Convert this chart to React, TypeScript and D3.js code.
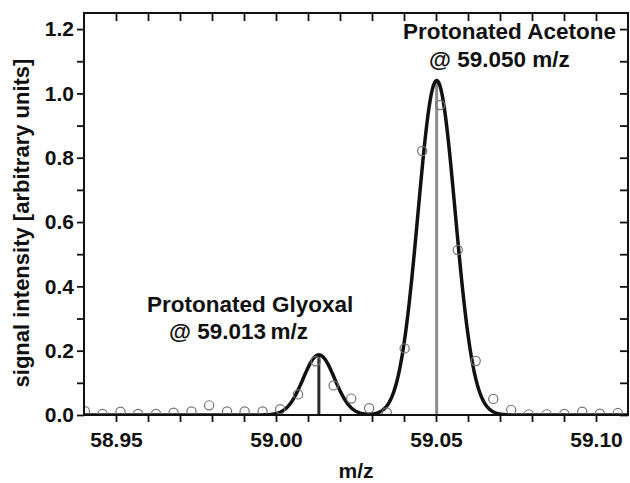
import React, { useRef, useEffect } from "react";
import * as d3 from "d3";

// measured points (open circles)
const mzValues = [
  58.9403, 58.9458, 58.9514, 58.9569, 58.9625, 58.968, 58.9736, 58.9791,
  58.9847, 58.9902, 58.9958, 59.0013, 59.0069, 59.0124, 59.018, 59.0235,
  59.0291, 59.0346, 59.0402, 59.0457, 59.0513, 59.0568, 59.0624, 59.0679,
  59.0735, 59.079, 59.0846, 59.0901, 59.0957, 59.1012, 59.1068,
];
const signalValues = [
  0.012, 0.003, 0.01, 0.003, 0.003, 0.007, 0.011, 0.03, 0.011, 0.011, 0.011,
  0.018, 0.064, 0.167, 0.092, 0.051, 0.021, 0.008, 0.207, 0.821, 0.964, 0.513,
  0.168, 0.05, 0.016, 0.002, 0.002, 0.003, 0.01, 0.004, 0.006,
];

// gaussian fit parameters (glyoxal, acetone)
const peakNames = ["Protonated Glyoxal", "Protonated Acetone"];
const peakLabels = ["@ 59.013\u2009m/z", "@ 59.050 m/z"];
const peakCenters = [59.0134, 59.0502];
const peakHeights = [0.187, 1.04];
const peakSigmas = [0.0049, 0.0058];
const stickColors = ["#2b2b2b", "#8c8c8c"];

const xTicks = [58.95, 59.0, 59.05, 59.1];
const xMinorTicks = [
  58.96, 58.97, 58.98, 58.99, 59.01, 59.02, 59.03, 59.04, 59.06, 59.07, 59.08,
  59.09,
];
const yTicks = [0, 0.2, 0.4, 0.6, 0.8, 1.0, 1.2];
const yMinorTicks = [0.1, 0.3, 0.5, 0.7, 0.9, 1.1];

const width = 630;
const height = 483;
const margin = { top: 13, right: 2, bottom: 68, left: 84 };
const font = "'Liberation Sans', Arial, Helvetica, sans-serif";

const App = () => {
  const svgRef = useRef(null);

  useEffect(() => {
    const svg = d3.select(svgRef.current);
    svg.selectAll("*").remove();

    const x = d3
      .scaleLinear()
      .domain([58.94, 59.11])
      .range([margin.left, width - margin.right]);
    const y = d3
      .scaleLinear()
      .domain([0, 1.25])
      .range([height - margin.bottom, margin.top]);

    svg
      .append("clipPath")
      .attr("id", "plot-clip")
      .append("rect")
      .attr("x", margin.left)
      .attr("y", margin.top)
      .attr("width", width - margin.left - margin.right)
      .attr("height", height - margin.top - margin.bottom);

    const plot = svg.append("g").attr("clip-path", "url(#plot-clip)");

    // sticks at the peak centres
    plot
      .selectAll("line.stick")
      .data(peakCenters)
      .join("line")
      .attr("class", "stick")
      .attr("x1", (d) => x(d))
      .attr("x2", (d) => x(d))
      .attr("y1", y(0))
      .attr("y2", (d, i) => y(peakHeights[i]))
      .attr("stroke", (d, i) => stickColors[i])
      .attr("stroke-width", 3);

    // fitted curve
    const fit = (m) =>
      d3.sum(peakCenters, (c, i) =>
        peakHeights[i] * Math.exp(-((m - c) ** 2) / (2 * peakSigmas[i] ** 2))
      );
    const grid = d3.range(58.94, 59.1101, 0.0002);
    const line = d3
      .line()
      .x((d) => x(d))
      .y((d) => y(fit(d)))
      .curve(d3.curveLinear);

    plot
      .append("path")
      .datum(grid)
      .attr("fill", "none")
      .attr("stroke", "#111")
      .attr("stroke-width", 3.5)
      .attr("stroke-linejoin", "round")
      .attr("d", line);

    // data points
    plot
      .selectAll("circle")
      .data(mzValues)
      .join("circle")
      .attr("cx", (d) => x(d))
      .attr("cy", (d, i) => y(signalValues[i]))
      .attr("r", 4.6)
      .attr("fill", "none")
      .attr("stroke", "#737373")
      .attr("stroke-width", 1.2);

    const tickStyle = (g) => {
      g.select(".domain").remove();
      g.selectAll("line").attr("stroke", "#111").attr("stroke-width", 1.8);
      g.selectAll("text")
        .attr("fill", "#111")
        .attr("font-family", font)
        .attr("font-weight", "bold")
        .attr("font-size", 21);
    };

    // bottom axis (outward ticks)
    svg
      .append("g")
      .attr("transform", `translate(0,${y(0)})`)
      .call(
        d3
          .axisBottom(x)
          .tickValues(xTicks)
          .tickFormat(d3.format(".2f"))
          .tickSize(7)
          .tickPadding(10)
      )
      .call(tickStyle);
    svg
      .append("g")
      .attr("transform", `translate(0,${y(0)})`)
      .call(d3.axisBottom(x).tickValues(xMinorTicks).tickFormat("").tickSize(7))
      .call(tickStyle);

    // left axis (outward ticks)
    svg
      .append("g")
      .attr("transform", `translate(${margin.left},0)`)
      .call(
        d3
          .axisLeft(y)
          .tickValues(yTicks)
          .tickFormat(d3.format(".1f"))
          .tickSize(7)
          .tickPadding(3)
      )
      .call(tickStyle);
    svg
      .append("g")
      .attr("transform", `translate(${margin.left},0)`)
      .call(d3.axisLeft(y).tickValues(yMinorTicks).tickFormat("").tickSize(7))
      .call(tickStyle);

    // mirrored top / right axes with inward ticks
    svg
      .append("g")
      .attr("transform", `translate(0,${margin.top})`)
      .call(
        d3
          .axisBottom(x)
          .tickValues([...xTicks, ...xMinorTicks])
          .tickFormat("")
          .tickSize(8)
      )
      .call(tickStyle);
    svg
      .append("g")
      .attr("transform", `translate(${width - margin.right},0)`)
      .call(
        d3
          .axisLeft(y)
          .tickValues([...yTicks, ...yMinorTicks])
          .tickFormat("")
          .tickSize(8)
      )
      .call(tickStyle);

    // frame
    svg
      .append("rect")
      .attr("x", margin.left)
      .attr("y", margin.top)
      .attr("width", width - margin.left - margin.right)
      .attr("height", height - margin.top - margin.bottom)
      .attr("fill", "none")
      .attr("stroke", "#111")
      .attr("stroke-width", 2);

    // axis titles
    svg
      .append("text")
      .attr("x", (margin.left + width - margin.right) / 2)
      .attr("y", 478)
      .attr("text-anchor", "middle")
      .attr("font-family", font)
      .attr("font-weight", "bold")
      .attr("font-size", 21)
      .attr("fill", "#111")
      .text("m/z");

    svg
      .append("text")
      .attr("transform", `translate(29,223) rotate(-90)`)
      .attr("text-anchor", "middle")
      .attr("font-family", font)
      .attr("font-weight", "bold")
      .attr("font-size", 22)
      .attr("fill", "#111")
      .text("signal intensity [arbitrary units]");

    // peak annotations
    const labelPos = [
      { x: 147, y: 312, x2: 169, y2: 339 },
      { x: 403, y: 39, x2: 429, y2: 67 },
    ];
    const ann = svg
      .append("g")
      .attr("font-family", font)
      .attr("font-weight", "bold")
      .attr("font-size", 22.5)
      .attr("fill", "#111");
    peakNames.forEach((name, i) => {
      ann
        .append("text")
        .attr("x", labelPos[i].x)
        .attr("y", labelPos[i].y)
        .text(name);
      ann
        .append("text")
        .attr("x", labelPos[i].x2)
        .attr("y", labelPos[i].y2)
        .text(peakLabels[i]);
    });
  }, []);

  return (
    <svg
      ref={svgRef}
      width={width}
      height={height}
      style={{ position: "absolute", left: 0, top: 0, background: "#fff" }}
    ></svg>
  );
};

export default App;
